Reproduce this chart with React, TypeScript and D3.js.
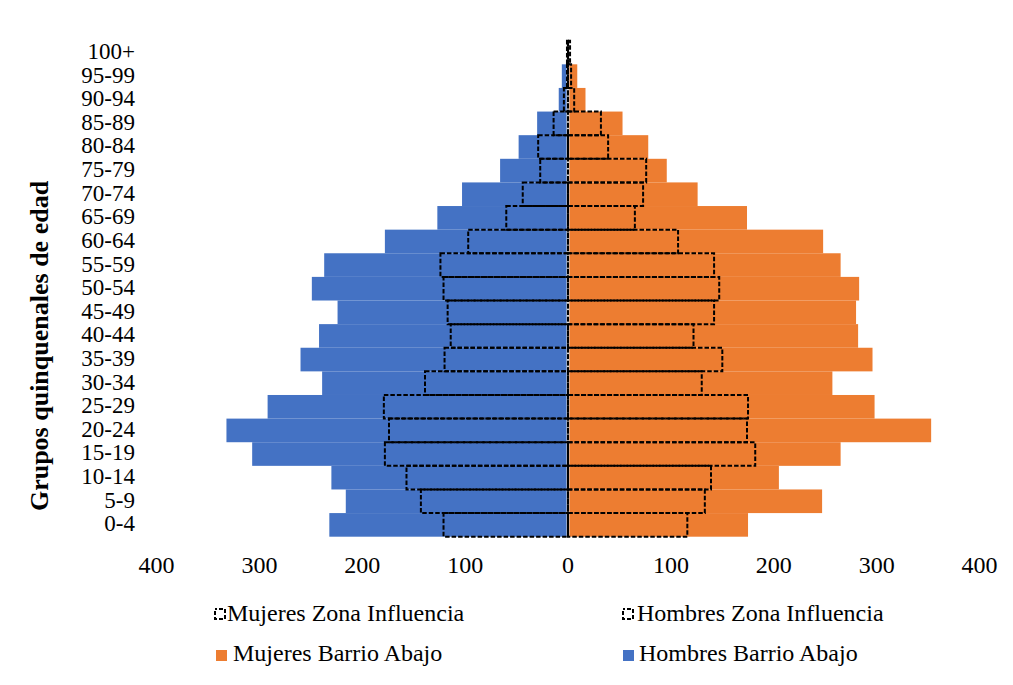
import React from 'react';
import * as d3 from 'd3';

// age groups, bottom to top
const ageGroups = ['0-4', '5-9', '10-14', '15-19', '20-24', '25-29', '30-34', '35-39', '40-44', '45-49',
  '50-54', '55-59', '60-64', '65-69', '70-74', '75-79', '80-84', '85-89', '90-94', '95-99', '100+'];

// Barrio Abajo (filled bars)
const hombresBarrio = [232, 216, 230, 307, 332, 292, 239, 260, 242, 224, 249, 237, 178, 127, 103, 66, 48, 30, 9, 6, 0];
const mujeresBarrio = [175, 247, 205, 265, 353, 298, 257, 296, 282, 280, 283, 265, 248, 174, 126, 96, 78, 53, 17, 9, 0];

// Zona Influencia (dashed outlines)
const hombresZona = [121, 143, 157, 178, 174, 179, 139, 120, 114, 117, 121, 124, 97, 60, 44, 27, 29, 14, 4, 1, 1];
const mujeresZona = [116, 133, 139, 182, 174, 175, 130, 150, 122, 142, 147, 142, 107, 65, 73, 76, 39, 32, 6, 3, 2];

const xTicks = [-400, -300, -200, -100, 0, 100, 200, 300, 400];

const BLUE = '#4472C4';
const ORANGE = '#ED7D31';
const FONT = "'Liberation Serif', 'Times New Roman', serif";

const legendItems = [
  { label: 'Mujeres Zona Influencia', kind: 'dash', sx: 214, tx: 227, row: 0 },
  { label: 'Hombres Zona Influencia', kind: 'dash', sx: 622, tx: 637, row: 0 },
  { label: 'Mujeres Barrio Abajo', kind: ORANGE, sx: 216, tx: 233, row: 1 },
  { label: 'Hombres Barrio Abajo', kind: BLUE, sx: 623, tx: 639, row: 1 },
];

const App: React.FC = () => {
  const width = 1013;
  const height = 685;

  const x = d3.scaleLinear().domain([-400, 400]).range([156.5, 979.5]);
  const y = d3.scaleBand<string>()
    .domain([...ageGroups].reverse())
    .range([40.7, 536.7])
    .padding(0);
  const bw = y.bandwidth();
  const x0 = x(0);

  return (
    <svg width={width} height={height} style={{ position: 'absolute', left: 0, top: 0, background: '#fff' }}
      fontFamily={FONT}>
      {/* filled bars */}
      {ageGroups.map((g, i) => (
        <g key={'b' + g}>
          <rect x={x(-hombresBarrio[i])} y={y(g)} width={x0 - x(-hombresBarrio[i])} height={bw} fill={BLUE} />
          <rect x={x0} y={y(g)} width={x(mujeresBarrio[i]) - x0} height={bw} fill={ORANGE} />
        </g>
      ))}

      {/* zero axis */}
      <line x1={x0} x2={x0} y1={40.7} y2={536.7} stroke="#d9d9d9" strokeWidth={3} />

      {/* dashed bars */}
      {ageGroups.map((g, i) => (
        <g key={'d' + g} fill="none" stroke="#000" strokeWidth={2} strokeDasharray="4.5,2">
          <rect x={x(-hombresZona[i])} y={y(g)} width={x0 - x(-hombresZona[i])} height={bw} />
          <rect x={x0} y={y(g)} width={x(mujeresZona[i]) - x0} height={bw} />
        </g>
      ))}

      {/* category labels */}
      {ageGroups.map(g => (
        <text key={'l' + g} x={135} y={(y(g) ?? 0) + bw / 2} dy="0.28em" textAnchor="end" fontSize={23} fill="#000">
          {g}
        </text>
      ))}

      {/* x tick labels */}
      {xTicks.map(t => (
        <text key={'t' + t} x={x(t)} y={573} textAnchor="middle" fontSize={24} fill="#000">
          {Math.abs(t)}
        </text>
      ))}

      {/* axis title */}
      <text transform="translate(48,346) rotate(-90)" textAnchor="middle" fontSize={26} fontWeight="bold" fill="#000">
        Grupos quinquenales de edad
      </text>

      {/* legend */}
      {legendItems.map(it => {
        const base = it.row === 0 ? 621 : 661;
        return (
          <g key={it.label}>
            {it.kind === 'dash' ? (
              <rect x={it.sx + 1} y={base - 12} width={10} height={10} fill="none" stroke="#000"
                strokeWidth={2} strokeDasharray="4,2" strokeDashoffset={2} />
            ) : (
              <rect x={it.sx} y={base - 11} width={11} height={11} fill={it.kind} />
            )}
            <text x={it.tx} y={base} fontSize={24} fill="#000">{it.label}</text>
          </g>
        );
      })}
    </svg>
  );
};

export default App;
